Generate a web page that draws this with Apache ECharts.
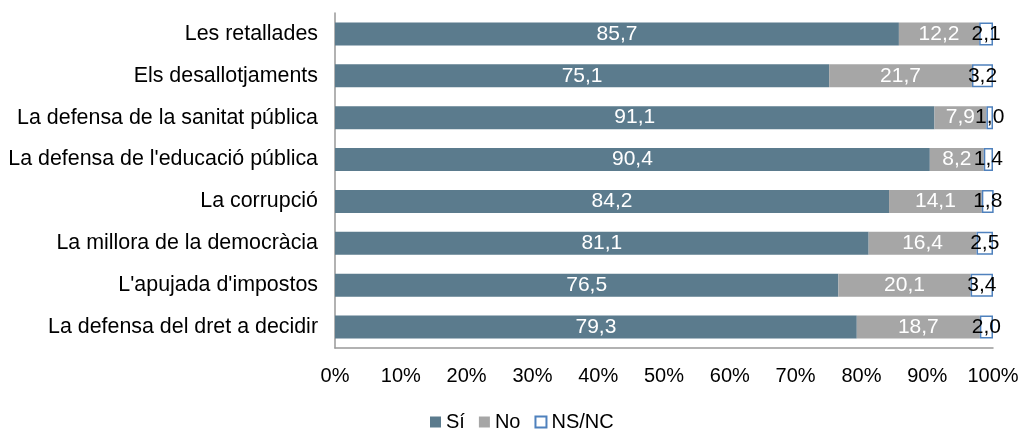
<!DOCTYPE html>
<html><head><meta charset="utf-8">
<script src="https://cdn.jsdelivr.net/npm/echarts@6/dist/echarts.min.js"></script>
<style>html,body{margin:0;padding:0;background:#fff}#c{width:1028px;height:432px}</style>
</head><body><div id="c"></div>
<script>
const categories = ["Les retallades","Els desallotjaments","La defensa de la sanitat pública","La defensa de l'educació pública","La corrupció","La millora de la democràcia","L'apujada d'impostos","La defensa del dret a decidir"];
const si = [85.7,75.1,91.1,90.4,84.2,81.1,76.5,79.3];
const no = [12.2,21.7,7.9,8.2,14.1,16.4,20.1,18.7];
const nsnc = [2.1,3.2,1.0,1.4,1.8,2.5,3.4,2.0];
const fmt = p => p.value.toFixed(1).replace('.', ',');
const font = 'Liberation Sans, Arial, sans-serif';
const chart = echarts.init(document.getElementById('c'));
chart.setOption({
  animation:false,
  textStyle:{fontFamily:font},
  grid:{left:335,right:35,top:13,bottom:84},
  legend:{top:412,left:430,padding:0,icon:'rect',itemWidth:11,itemHeight:11,itemGap:14,
    textStyle:{fontSize:20,color:'#000',fontFamily:font},
    data:['Sí','No','NS/NC']},
  xAxis:{type:'value',min:0,max:100,interval:10,
    axisLine:{show:true,lineStyle:{color:'#999',width:1.5}},
    axisTick:{show:false},splitLine:{show:false},
    axisLabel:{formatter:'{value}%',fontSize:20,color:'#000',margin:18,fontFamily:font}},
  yAxis:{type:'category',data:categories,inverse:true,
    axisLine:{show:true,lineStyle:{color:'#999',width:1.5}},
    axisTick:{show:false},
    axisLabel:{fontSize:21.4,color:'#000',margin:17,fontFamily:font}},
  series:[
    {name:'Sí',type:'bar',stack:'a',data:si,barWidth:'55%',
     itemStyle:{color:'#5B7B8D'},
     label:{show:true,position:'inside',color:'#fff',fontSize:21,formatter:fmt,fontFamily:font}},
    {name:'No',type:'bar',stack:'a',data:no,
     itemStyle:{color:'#A6A6A6'},
     label:{show:true,position:'inside',color:'#fff',fontSize:21,formatter:fmt,fontFamily:font}},
    {name:'NS/NC',type:'bar',stack:'a',data:nsnc,
     itemStyle:{color:'#fff',borderColor:'#4F81BD',borderWidth:1.5},
     label:{show:true,position:'inside',color:'#000',fontSize:21,formatter:fmt,fontFamily:font}}
  ]
});
</script></body></html>
